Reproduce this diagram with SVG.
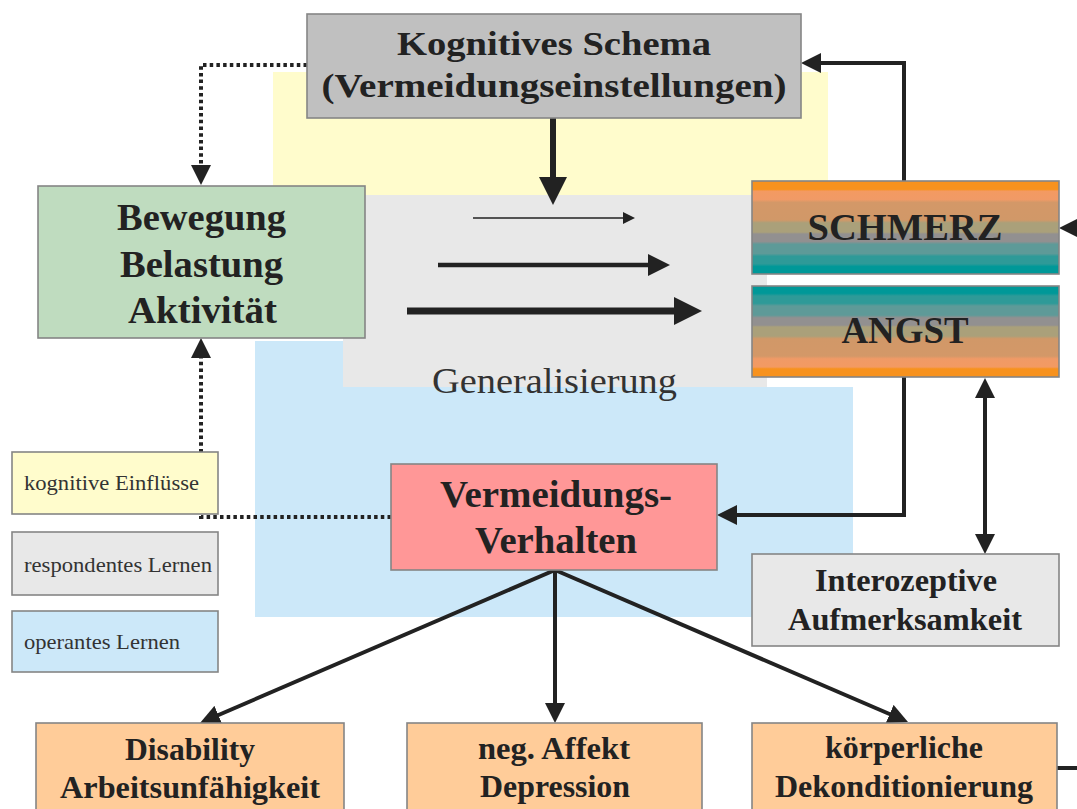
<svg xmlns="http://www.w3.org/2000/svg" width="1077" height="809" viewBox="0 0 1077 809">
<style>
.box{stroke:#858585;stroke-width:1.6}
.t{font-family:"Liberation Serif","Times New Roman",serif;font-weight:bold;fill:#222;text-anchor:middle}
.r{font-family:"Liberation Serif","Times New Roman",serif;fill:#333}
.ln{fill:none;stroke:#222;stroke-width:4}
.dot{fill:none;stroke:#222;stroke-width:4;stroke-dasharray:3.5 3.2}
</style>
<defs>
<marker id="ah" viewBox="0 0 20 20" refX="10" refY="10" markerWidth="20" markerHeight="20" orient="auto-start-reverse" markerUnits="userSpaceOnUse"><path d="M0,0 L20,10 L0,20 z" fill="#222"/></marker>
<marker id="ahS" viewBox="0 0 12 12" refX="6" refY="6" markerWidth="12" markerHeight="12" orient="auto" markerUnits="userSpaceOnUse"><path d="M0,0 L12,6 L0,12 z" fill="#222"/></marker>
<marker id="ahM" viewBox="0 0 22 22" refX="11" refY="11" markerWidth="22" markerHeight="22" orient="auto" markerUnits="userSpaceOnUse"><path d="M0,0 L22,11 L0,22 z" fill="#222"/></marker>
<marker id="ahL" viewBox="0 0 28 28" refX="14" refY="14" markerWidth="28" markerHeight="28" orient="auto" markerUnits="userSpaceOnUse"><path d="M0,0 L28,14 L0,28 z" fill="#222"/></marker>
<linearGradient id="gS" x1="0" y1="0" x2="0" y2="1">
<stop offset="0" stop-color="#f7921e"/>
<stop offset="0.09" stop-color="#f7921e"/>
<stop offset="0.11" stop-color="#f39a62"/>
<stop offset="0.2" stop-color="#f09a66"/>
<stop offset="0.23" stop-color="#d39868"/>
<stop offset="0.42" stop-color="#d19868"/>
<stop offset="0.45" stop-color="#aaa07a"/>
<stop offset="0.55" stop-color="#aaa07a"/>
<stop offset="0.57" stop-color="#929090"/>
<stop offset="0.65" stop-color="#929090"/>
<stop offset="0.68" stop-color="#5e9a98"/>
<stop offset="0.78" stop-color="#5e9a98"/>
<stop offset="0.81" stop-color="#2e9a98"/>
<stop offset="0.89" stop-color="#2e9a98"/>
<stop offset="0.92" stop-color="#009898"/>
<stop offset="1" stop-color="#009898"/>
</linearGradient>
<linearGradient id="gA" x1="0" y1="1" x2="0" y2="0" href="#gS"/>
</defs>
<rect width="1077" height="809" fill="#ffffff"/>
<g id="regions">
<rect x="273" y="72" width="555" height="123" fill="#fffccc"/>
<path d="M255,341 H767 V387 H853 V617 H255 Z" fill="#cce8f9"/>
<rect x="343" y="195" width="424" height="192" fill="#e8e8e8"/>
<text class="r" x="554.5" y="393" font-size="35" text-anchor="middle" textLength="245" lengthAdjust="spacingAndGlyphs">Generalisierung</text>
</g>
<g id="connectors">
<path class="dot" d="M307,65 H201 V175" marker-end="url(#ah)"/>
<path class="dot" d="M391,517 H201 V348" marker-end="url(#ah)"/>
<path class="ln" style="stroke-width:6" d="M553,118 V191" marker-end="url(#ahL)"/>
<path class="ln" style="stroke-width:1.5" d="M473,218 H629" marker-end="url(#ahS)"/>
<path class="ln" style="stroke-width:4.5" d="M438,265 H659" marker-end="url(#ahM)"/>
<path class="ln" style="stroke-width:7" d="M407,311 H688" marker-end="url(#ahL)"/>
<path class="ln" d="M904,181 V63 H811" marker-end="url(#ah)"/>
<path class="ln" d="M1080,228 H1069" marker-end="url(#ah)"/>
<path class="ln" d="M904,377 V515 H727" marker-end="url(#ah)"/>
<path class="ln" d="M985,388 V544" marker-start="url(#ah)" marker-end="url(#ah)"/>
<path class="ln" d="M555,570 V713" marker-end="url(#ah)"/>
<path class="ln" d="M555,570 L209.2,719" marker-end="url(#ah)"/>
<path class="ln" d="M555,570 L898.8,718" marker-end="url(#ah)"/>
<path class="ln" d="M1057,768 H1080"/>
</g>
<g id="kognitives-schema">
<rect class="box" x="307" y="14" width="494" height="104" fill="#c0c0c0"/>
<text class="t" x="554" y="55" font-size="34" textLength="314" lengthAdjust="spacingAndGlyphs">Kognitives Schema</text>
<text class="t" x="554" y="97" font-size="34" textLength="465" lengthAdjust="spacingAndGlyphs">(Vermeidungseinstellungen)</text>
</g>
<g id="bewegung">
<rect class="box" x="38" y="186" width="327" height="152" fill="#bfdcbf"/>
<text class="t" x="201.5" y="230" font-size="37" textLength="169" lengthAdjust="spacingAndGlyphs">Bewegung</text>
<text class="t" x="201.5" y="277" font-size="37" textLength="163" lengthAdjust="spacingAndGlyphs">Belastung</text>
<text class="t" x="202.5" y="323" font-size="37" textLength="149" lengthAdjust="spacingAndGlyphs">Aktivität</text>
</g>
<g id="schmerz">
<rect class="box" x="752" y="181" width="307" height="93" fill="url(#gS)"/>
<text class="t" x="905" y="240" font-size="38" textLength="195" lengthAdjust="spacingAndGlyphs">SCHMERZ</text>
</g>
<g id="angst">
<rect class="box" x="752" y="286" width="307" height="91" fill="url(#gA)"/>
<text class="t" x="905" y="343" font-size="38" textLength="127" lengthAdjust="spacingAndGlyphs">ANGST</text>
</g>
<g id="vermeidungsverhalten">
<rect class="box" x="391" y="464" width="326" height="106" fill="#ff9797"/>
<text class="t" x="556" y="507" font-size="37" textLength="232" lengthAdjust="spacingAndGlyphs">Vermeidungs-</text>
<text class="t" x="556" y="553" font-size="37" textLength="162" lengthAdjust="spacingAndGlyphs">Verhalten</text>
</g>
<g id="interozeptive">
<rect class="box" x="752" y="554" width="307" height="92" fill="#e8e8e8"/>
<text class="t" x="906" y="591" font-size="31" textLength="182" lengthAdjust="spacingAndGlyphs">Interozeptive</text>
<text class="t" x="905" y="630" font-size="31" textLength="234" lengthAdjust="spacingAndGlyphs">Aufmerksamkeit</text>
</g>
<g id="legend-kognitiv">
<rect class="box" x="12" y="452" width="206" height="62" fill="#fffccc"/>
<text class="r" x="24" y="490" font-size="21" textLength="175" lengthAdjust="spacingAndGlyphs">kognitive Einflüsse</text>
</g>
<g id="legend-respondent">
<rect class="box" x="12" y="532" width="206" height="63" fill="#e8e8e8"/>
<text class="r" x="24" y="572" font-size="21" textLength="188" lengthAdjust="spacingAndGlyphs">respondentes Lernen</text>
</g>
<g id="legend-operant">
<rect class="box" x="12" y="611" width="206" height="61" fill="#cce8f9"/>
<text class="r" x="24" y="649" font-size="21" textLength="156" lengthAdjust="spacingAndGlyphs">operantes Lernen</text>
</g>
<g id="disability">
<rect class="box" x="36" y="723" width="308" height="100" fill="#ffcc99"/>
<text class="t" x="190" y="760" font-size="31" textLength="130" lengthAdjust="spacingAndGlyphs">Disability</text>
<text class="t" x="190" y="798" font-size="31" textLength="260" lengthAdjust="spacingAndGlyphs">Arbeitsunfähigkeit</text>
</g>
<g id="affekt">
<rect class="box" x="407" y="723" width="295" height="100" fill="#ffcc99"/>
<text class="t" x="554" y="759" font-size="31" textLength="152" lengthAdjust="spacingAndGlyphs">neg. Affekt</text>
<text class="t" x="555" y="797" font-size="31" textLength="150" lengthAdjust="spacingAndGlyphs">Depression</text>
</g>
<g id="dekonditionierung">
<rect class="box" x="752" y="723" width="305" height="100" fill="#ffcc99"/>
<text class="t" x="904" y="758" font-size="31" textLength="158" lengthAdjust="spacingAndGlyphs">körperliche</text>
<text class="t" x="904" y="797" font-size="31" textLength="258" lengthAdjust="spacingAndGlyphs">Dekonditionierung</text>
</g>
</svg>
